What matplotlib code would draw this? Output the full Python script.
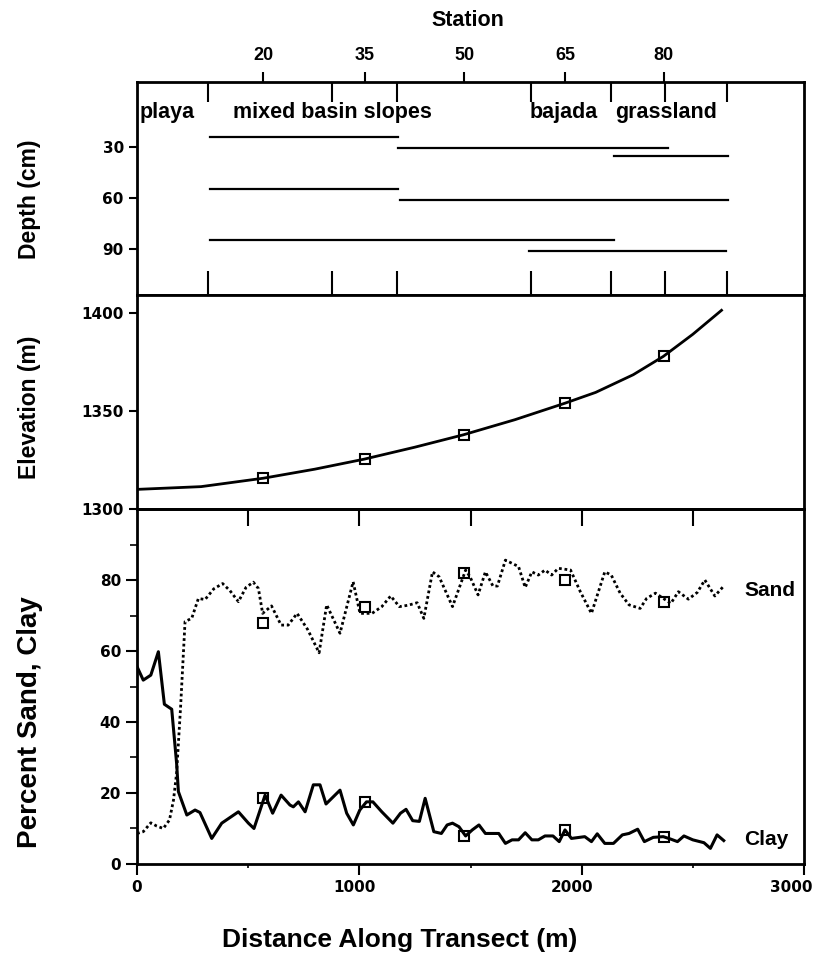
import matplotlib
matplotlib.use("Agg")
import matplotlib.pyplot as plt
from matplotlib.transforms import ScaledTranslation

# station axis (top)
station_labels = [20, 35, 50, 65, 80]
station_x = [567, 1025, 1472, 1927, 2370]

# vegetation zone dividers (m)
divider_x = [321, 877, 1171, 1770, 2133, 2375, 2653]

# sampling depth segments
seg_depth = [24.5, 30.5, 35.5, 55, 61, 85, 91]
seg_start = [327, 1175, 2147, 327, 1183, 327, 1765]
seg_end = [1175, 2390, 2660, 1175, 2660, 2145, 2650]

# elevation profile
elev_x = [0, 288, 569, 800, 1022, 1250, 1468, 1700, 1925, 2063, 2232, 2367, 2500, 2629]
elev_y = [1310, 1311.4, 1315.7, 1320.3, 1325.4, 1331.5, 1337.8, 1345.5, 1353.9,
          1359.4, 1368.4, 1377.7, 1389, 1401.2]
elev_station = [1315.7, 1325.4, 1337.8, 1353.9, 1377.7]

# percent sand
sand_x = [0, 28, 62, 88, 118, 146, 164, 178, 196, 216,
          246, 276, 306, 345, 385, 418, 456, 490, 523, 546,
          565, 605, 648, 680, 720, 768, 819, 853, 913, 972,
          1003, 1057, 1101, 1141, 1180, 1220, 1260, 1290, 1329, 1359,
          1419, 1478, 1498, 1534, 1567, 1601, 1621, 1657, 1716, 1746,
          1776, 1805, 1835, 1865, 1895, 1950, 1994, 2044, 2104, 2133,
          2173, 2213, 2263, 2292, 2332, 2401, 2435, 2480, 2520, 2554,
          2599, 2639]
sand_y = [8.6, 9.1, 11.6, 10.7, 10, 12.4, 18, 25.6, 44.3, 68.3,
          69.2, 74.8, 74.5, 77.5, 79, 77, 73.9, 77.9, 79.4, 77.6,
          70.6, 72.7, 67.3, 67.3, 70.6, 66, 59.5, 73, 65, 79.5,
          70.6, 70.6, 72.5, 75.5, 72.5, 72.9, 73.6, 69.2, 82.3, 80.9,
          72.5, 82.8, 80.9, 75.8, 82.3, 78.3, 78.3, 85.6, 83.8, 77.9,
          82.3, 81.4, 82.8, 81.4, 83.3, 82.8, 76.7, 70.6, 82.3, 81.4,
          76.3, 73, 72, 74.8, 76.3, 73.4, 76.7, 74.6, 76.5, 80,
          75.5, 78.3]
sand_station = [67.8, 72.5, 82, 80, 73.9]

# percent clay
clay_x = [0, 28, 62, 96, 123, 156, 178, 186, 224, 261,
          283, 336, 381, 456, 501, 526, 576, 610, 648, 688,
          703, 726, 756, 793, 823, 850, 913, 943, 973, 1002,
          1032, 1061, 1101, 1151, 1185, 1210, 1240, 1270, 1296, 1335,
          1369, 1395, 1419, 1448, 1478, 1508, 1538, 1567, 1627, 1657,
          1687, 1716, 1746, 1776, 1805, 1835, 1871, 1899, 1925, 1954,
          2014, 2044, 2070, 2104, 2143, 2183, 2213, 2252, 2282, 2322,
          2367, 2401, 2431, 2460, 2500, 2550, 2579, 2609, 2639]
clay_y = [55.6, 51.8, 53.2, 59.8, 45, 43.6, 28.4, 20.4, 13.8, 15.2,
          14.5, 7.2, 11.5, 14.7, 11.5, 10, 19.4, 14.3, 19.4, 16.6,
          16.1, 17.5, 14.7, 22.3, 22.3, 16.9, 20.8, 14.3, 11, 15.2,
          17.5, 17.5, 14.7, 11.5, 14.3, 15.4, 12.2, 12, 18.5, 9.1,
          8.6, 11, 11.5, 10.5, 7.9, 9.6, 11, 8.6, 8.6, 5.8,
          6.8, 6.8, 8.8, 6.8, 6.8, 7.9, 7.9, 6.3, 9.6, 7.2,
          7.7, 6.3, 8.5, 5.8, 5.8, 8.2, 8.6, 9.8, 6.3, 7.5,
          7.7, 7, 6.3, 7.9, 6.8, 6, 4.4, 8.2, 6.6]
clay_station = [18.7, 17.5, 7.9, 9.6, 7.7]

LABEL_FONT = ["Liberation Sans", "DejaVu Sans"]
TICK_FONT = ["DejaVu Sans"]
MARK = dict(ls="none", marker="s", ms=6.5, mfc="none", mec="black", mew=1.5)


def style_ticks(ax):
    for lab in ax.get_xticklabels() + ax.get_yticklabels():
        lab.set_family(TICK_FONT)
        lab.set_fontweight("bold")
        lab.set_fontsize(11)
    for sp in ax.spines.values():
        sp.set_linewidth(2)


def main():
    fig = plt.figure(figsize=(8.23, 9.55), dpi=100)
    left, width = 0.1665, 0.8104
    ax1 = fig.add_axes([left, 0.6911, width, 0.2230])
    ax2 = fig.add_axes([left, 0.4670, width, 0.2241])
    ax3 = fig.add_axes([left, 0.0953, width, 0.3717])
    for ax in (ax1, ax2, ax3):
        ax.set_xlim(0, 3000)

    # --- depth panel
    ax1.set_ylim(117, -8)
    for d, a, b in zip(seg_depth, seg_start, seg_end):
        ax1.plot([a, b], [d, d], color="black", lw=1.6)
    ax1.vlines(divider_x, -8, 4, color="black", lw=1.5)
    ax1.vlines(divider_x, 103, 117, color="black", lw=1.5)
    ax1.set_yticks([30, 60, 90])
    ax1.xaxis.tick_top()
    ax1.set_xticks(station_x)
    ax1.set_xticklabels(station_labels)
    ax1.tick_params(axis="x", direction="out", length=7, width=1.5, pad=6)
    ax1.tick_params(axis="y", direction="out", length=6, width=1.5)
    style_ticks(ax1)
    for lab in ax1.get_xticklabels():
        lab.set_family(LABEL_FONT)
        lab.set_fontsize(13)
    zone_kw = dict(family=LABEL_FONT, fontweight="bold", fontsize=15.5, va="center")
    ax1.text(13, 10, "playa", ha="left", **zone_kw)
    ax1.text(880, 10, "mixed basin slopes", ha="center", **zone_kw)
    ax1.text(1766, 10, "bajada", ha="left", **zone_kw)
    ax1.text(2380, 10, "grassland", ha="center", **zone_kw)

    # --- elevation panel
    ax2.set_ylim(1300, 1409)
    ax2.plot(elev_x, elev_y, color="black", lw=2)
    ax2.plot(station_x, elev_station, **MARK)
    ax2.set_yticks([1300, 1350, 1400])
    ax2.tick_params(axis="x", bottom=False, labelbottom=False)
    ax2.tick_params(axis="y", direction="out", length=6, width=1.5)
    style_ticks(ax2)

    # --- sand / clay panel
    ax3.set_ylim(0, 100)
    ax3.plot(sand_x, sand_y, color="black", lw=2, ls=(0, (1, 1)))
    ax3.plot(clay_x, clay_y, color="black", lw=2.2)
    ax3.plot(station_x, sand_station, **MARK)
    ax3.plot(station_x, clay_station, **MARK)
    ax3.text(2730, 77, "Sand", family=LABEL_FONT, fontweight="bold",
             fontsize=15, va="center")
    ax3.text(2730, 6.8, "Clay", family=LABEL_FONT, fontweight="bold",
             fontsize=15, va="center")
    ax3.set_xticks([0, 1000, 2000, 3000])
    ax3.set_xticks([500, 1500, 2500], minor=True)
    ax3.set_yticks([0, 20, 40, 60, 80])
    ax3.set_yticks(range(10, 100, 20), minor=True)
    ax3.tick_params(which="major", direction="out", length=8, width=1.5)
    ax3.tick_params(which="minor", direction="out", length=5, width=1.2)
    ax3.tick_params(axis="x", which="minor", length=3)
    top = ax3.secondary_xaxis("top")
    top.set_xticks([500, 1000, 1500, 2000, 2500])
    top.tick_params(direction="in", length=12, width=1.5, labeltop=False)
    top.spines["top"].set_linewidth(2)
    style_ticks(ax3)
    # x labels drift a little left of their ticks in the original
    for lab, shift in zip(ax3.get_xticklabels(), [0, -5, -10, -13]):
        lab.set_transform(lab.get_transform()
                          + ScaledTranslation(shift / 100, 0, fig.dpi_scale_trans))

    # --- axis titles
    title_kw = dict(family=LABEL_FONT, fontweight="bold")
    fig.text(0.569, 0.979, "Station", ha="center", va="center",
             fontsize=15.5, **title_kw)
    fig.text(0.486, 0.016, "Distance Along Transect (m)", ha="center",
             va="center", fontsize=19, **title_kw)
    fig.text(0.036, 1 - 199 / 955, "Depth (cm)", rotation=90, ha="center",
             va="center", fontsize=16.5, **title_kw)
    fig.text(0.036, 1 - 407 / 955, "Elevation (m)", rotation=90, ha="center",
             va="center", fontsize=16.5, **title_kw)
    fig.text(0.036, 1 - 722 / 955, "Percent Sand, Clay", rotation=90,
             ha="center", va="center", fontsize=20, **title_kw)

    fig.savefig("out.png", dpi=100)


if __name__ == '__main__':
    main()
